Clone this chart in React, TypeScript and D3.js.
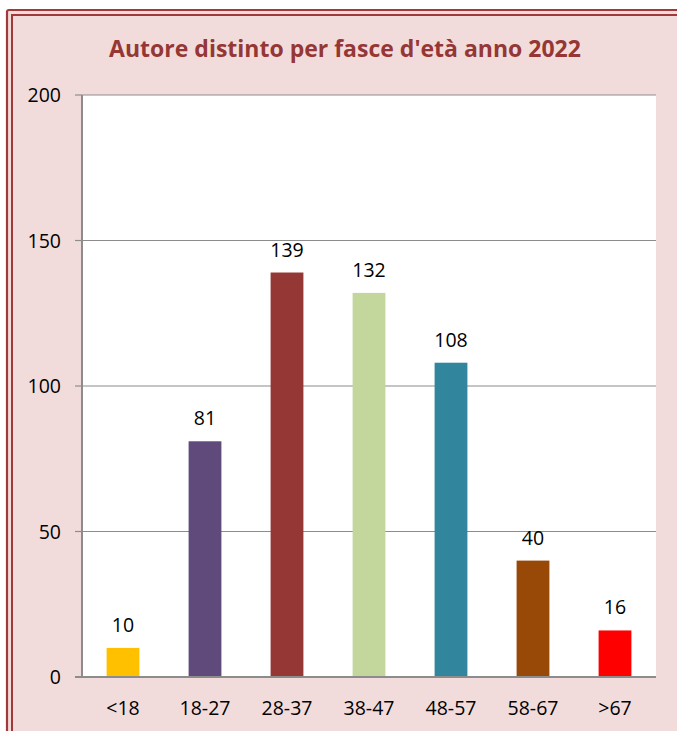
import React from "react";
import * as d3 from "d3";

const categories = ["<18", "18-27", "28-37", "38-47", "48-57", "58-67", ">67"];
const values = [10, 81, 139, 132, 108, 40, 16];
const colors = ["#FFC000", "#604A7B", "#953735", "#C3D69B", "#31859C", "#984807", "#FF0000"];
const yTicks = [0, 50, 100, 150, 200];
const title = "Autore distinto per fasce d'età anno 2022";

export default function App() {
  const W = 677, H = 731;
  const left = 82, right = 656, top = 95, bottom = 677;
  const x = d3.scaleBand<string>().domain(categories).range([left, right]).paddingInner(0.6).paddingOuter(0.3);
  const y = d3.scaleLinear().domain([0, 200]).range([bottom, top]);
  const font = "Open Sans, Noto Sans, sans-serif";
  const fs = 19.5;
  return (
    <svg width={W} height={H} style={{ position: "absolute", left: 0, top: 0 }} fontFamily={font}>
      <rect x={0} y={0} width={W} height={H} fill="#ffffff" />
      <rect x={7} y={10} width={W + 20} height={H + 20} rx={2} fill="#F2DCDB" stroke="#A0393A" strokeWidth={2.2} />
      <rect x={12} y={15} width={W + 20} height={H + 20} fill="none" stroke="#A0393A" strokeWidth={2} />
      <text x={345} y={57} textAnchor="middle" fontSize={23} fontWeight="bold" fill="#953735" fontFamily={font}>
        {title}
      </text>
      <rect x={left} y={top} width={right - left} height={bottom - top} fill="#ffffff" />
      {yTicks.map((t) => (
        <g key={t}>
          {t > 0 && <line x1={left} x2={right} y1={y(t)} y2={y(t)} stroke="#8C8C8C" strokeWidth={1.2} />}
          <line x1={left - 7} x2={left} y1={y(t)} y2={y(t)} stroke="#8C8C8C" strokeWidth={1.2} />
          <text x={61} y={y(t) + 7} textAnchor="end" fontSize={fs} fill="#000">
            {t}
          </text>
        </g>
      ))}
      {categories.map((c, i) => (
        <g key={c}>
          <rect x={x(c)!} y={y(values[i])} width={x.bandwidth()} height={bottom - y(values[i])} fill={colors[i]} />
          <text x={x(c)! + x.bandwidth() / 2} y={y(values[i]) - 16} textAnchor="middle" fontSize={fs} fill="#000">
            {values[i]}
          </text>
          <text x={x(c)! + x.bandwidth() / 2} y={715} textAnchor="middle" fontSize={fs} fill="#000">
            {c}
          </text>
        </g>
      ))}
      <line x1={left} x2={left} y1={top} y2={bottom} stroke="#8C8C8C" strokeWidth={2} />
      <line x1={left - 7} x2={right} y1={bottom} y2={bottom} stroke="#8C8C8C" strokeWidth={2} />
    </svg>
  );
}
